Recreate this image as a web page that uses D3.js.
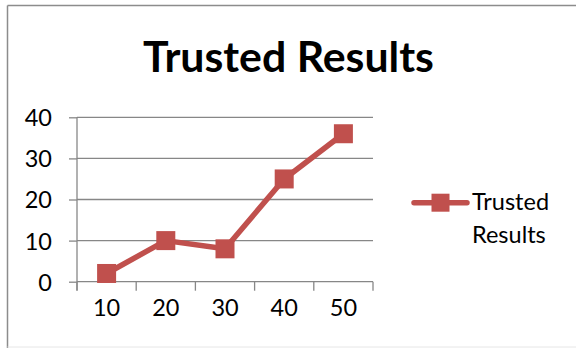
<!DOCTYPE html>
<html><head><meta charset="utf-8">
<script src="https://cdn.jsdelivr.net/npm/d3@7"></script>
<style>body{margin:0;background:#fff}svg{display:block}</style>
</head><body><svg id="c" width="576" height="348"></svg>
<script>
const categories = ["10","20","30","40","50"];
const values = [2, 10, 8, 25, 36];
const yTicks = [0, 10, 20, 30, 40];
const seriesName = "Trusted Results";
const title = "Trusted Results";

const svg = d3.select("#c");
const font = "Lato, 'Open Sans', sans-serif";
const red = "#C0504D";
const fs = 23.5;

// frame
svg.append("line").attr("x1",7.5).attr("x2",7.5).attr("y1",5.5).attr("y2",348).attr("stroke","#8c8c8c").attr("stroke-width",1.5);
svg.append("line").attr("x1",7.5).attr("x2",576).attr("y1",5.5).attr("y2",5.5).attr("stroke","#8c8c8c").attr("stroke-width",1.5);
svg.append("line").attr("x1",7.5).attr("x2",576).attr("y1",347).attr("y2",347).attr("stroke","#e6e6e6").attr("stroke-width",1);

// title
const t = svg.append("text").attr("x",288.5).attr("y",71.7).attr("text-anchor","middle")
  .attr("font-family",font).attr("font-weight","bold").attr("font-size",40).attr("fill","#000").text(title);
const tw = t.node().getComputedTextLength();
t.attr("font-size", 40*291/tw);

const x = d3.scaleBand().domain(categories).range([77,373]).paddingInner(0).paddingOuter(0);
const y = d3.scaleLinear().domain([0,40]).range([281.7,117.3]);

// gridlines
svg.append("g").selectAll("line").data(yTicks.filter(d=>d>0)).join("line")
  .attr("x1",77).attr("x2",373).attr("y1",d=>y(d)).attr("y2",d=>y(d))
  .attr("stroke","#878787").attr("stroke-width",1.3);

// y axis
const ya = svg.append("g").attr("transform","translate(77,0)")
  .call(d3.axisLeft(y).tickValues(yTicks).tickSize(8).tickPadding(17).tickFormat(d3.format("d")));
ya.select(".domain").attr("stroke","#878787").attr("stroke-width",1.3).attr("d","M0,117.3V290.5");
ya.selectAll(".tick line").attr("stroke","#878787").attr("stroke-width",1.3);
ya.selectAll(".tick text").attr("font-family",font).attr("font-size",fs).attr("fill","#000").attr("dy","0.36em");

// x axis
const xa = svg.append("g").attr("transform","translate(0,"+y(0)+")")
  .call(d3.axisBottom(x).tickSize(0).tickPadding(26));
xa.select(".domain").attr("stroke","#878787").attr("stroke-width",1.3).attr("d","M77,0H373");
xa.selectAll(".tick text").attr("font-family",font).attr("font-size",fs).attr("fill","#000").attr("dy","0.36em");
const bounds = categories.map(c=>x(c)).concat([x(categories[categories.length-1])+x.bandwidth()]);
xa.append("g").selectAll("line").data(bounds).join("line")
  .attr("x1",d=>d).attr("x2",d=>d).attr("y1",0).attr("y2",9)
  .attr("stroke","#878787").attr("stroke-width",1.3);

// series line
const cx = c => x(c) + x.bandwidth()/2;
const pts = categories.map((c,i)=>[cx(c), y(values[i])]);
svg.append("path").attr("d", d3.line()(pts)).attr("fill","none").attr("stroke",red).attr("stroke-width",5.5).attr("stroke-linejoin","round").attr("stroke-linecap","round");
const ms = 19;
svg.append("g").selectAll("rect").data(pts).join("rect")
  .attr("x",d=>d[0]-ms/2).attr("y",d=>d[1]-ms/2).attr("width",ms).attr("height",ms).attr("fill",red);

// legend
const lg = svg.append("g");
lg.append("line").attr("x1",414).attr("x2",467).attr("y1",202.7).attr("y2",202.7).attr("stroke",red).attr("stroke-width",5.5).attr("stroke-linecap","round");
lg.append("rect").attr("x",440.5-9).attr("y",202.7-9).attr("width",18).attr("height",18).attr("fill",red);
lg.append("text").attr("x",472).attr("y",210).attr("font-family",font).attr("font-size",fs).attr("fill","#000").text("Trusted");
lg.append("text").attr("x",472).attr("y",243).attr("font-family",font).attr("font-size",fs).attr("fill","#000").text("Results");
</script></body></html>
